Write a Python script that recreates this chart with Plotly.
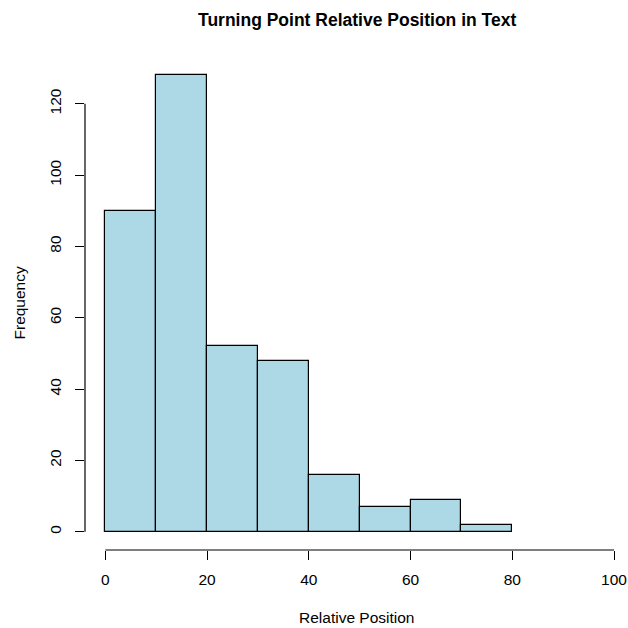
import plotly.graph_objects as go

bin_edges = [0, 10, 20, 30, 40, 50, 60, 70, 80]
counts = [90, 128, 52, 48, 16, 7, 9, 2]
x_ticks = [0, 20, 40, 60, 80, 100]
y_ticks = [0, 20, 40, 60, 80, 100, 120]
title = "Turning Point Relative Position in Text"
x_label = "Relative Position"
y_label = "Frequency"

centers = [(a + b) / 2 for a, b in zip(bin_edges[:-1], bin_edges[1:])]
widths = [b - a for a, b in zip(bin_edges[:-1], bin_edges[1:])]

font = "Liberation Sans, Arial, sans-serif"

fig = go.Figure(go.Bar(
    x=centers, y=counts, width=widths,
    marker=dict(color="#ADD8E6", line=dict(color="black", width=1.2)),
    hoverinfo="skip",
))

fig.update_layout(
    width=628, height=628,
    margin=dict(l=84.6, r=0, t=57.2, b=78),
    paper_bgcolor="white", plot_bgcolor="white",
    showlegend=False,
    font=dict(family=font, size=15.5, color="black"),
    bargap=0,
    xaxis=dict(range=[-4, 102.75], tickvals=x_ticks, ticks="outside", ticklen=9,
               tickcolor="black", tickwidth=1.2, showgrid=False, zeroline=False,
               showline=False, ticklabelstandoff=6, tickfont=dict(size=15.5)),
    yaxis=dict(range=[-5.12, 133.12], tickvals=y_ticks, ticks="outside", ticklen=9,
               tickcolor="black", tickwidth=1.2, showgrid=False, zeroline=False,
               showline=False, tickangle=-90, ticklabelstandoff=8, tickfont=dict(size=15.5)),
    shapes=[
        dict(type="line", xref="x", yref="paper", x0=x_ticks[0], x1=x_ticks[-1], y0=0, y1=0,
             line=dict(color="black", width=1.2)),
        dict(type="line", xref="paper", yref="y", x0=0, x1=0, y0=y_ticks[0], y1=y_ticks[-1],
             line=dict(color="black", width=1.2)),
    ],
    annotations=[
        dict(text="<b>" + title + "</b>", xref="paper", yref="paper", x=0.5, y=1,
             yshift=37, xanchor="center", yanchor="middle", showarrow=False,
             font=dict(size=17.5, family=font)),
        dict(text=x_label, xref="paper", yref="paper", x=0.5, y=0, yshift=-67,
             xanchor="center", yanchor="middle", showarrow=False, font=dict(size=15.5)),
        dict(text=y_label, xref="paper", yref="paper", x=0, y=0.5, xshift=-66,
             xanchor="center", yanchor="middle", textangle=-90, showarrow=False,
             font=dict(size=15.5)),
    ],
)

fig.write_html("out.html")
